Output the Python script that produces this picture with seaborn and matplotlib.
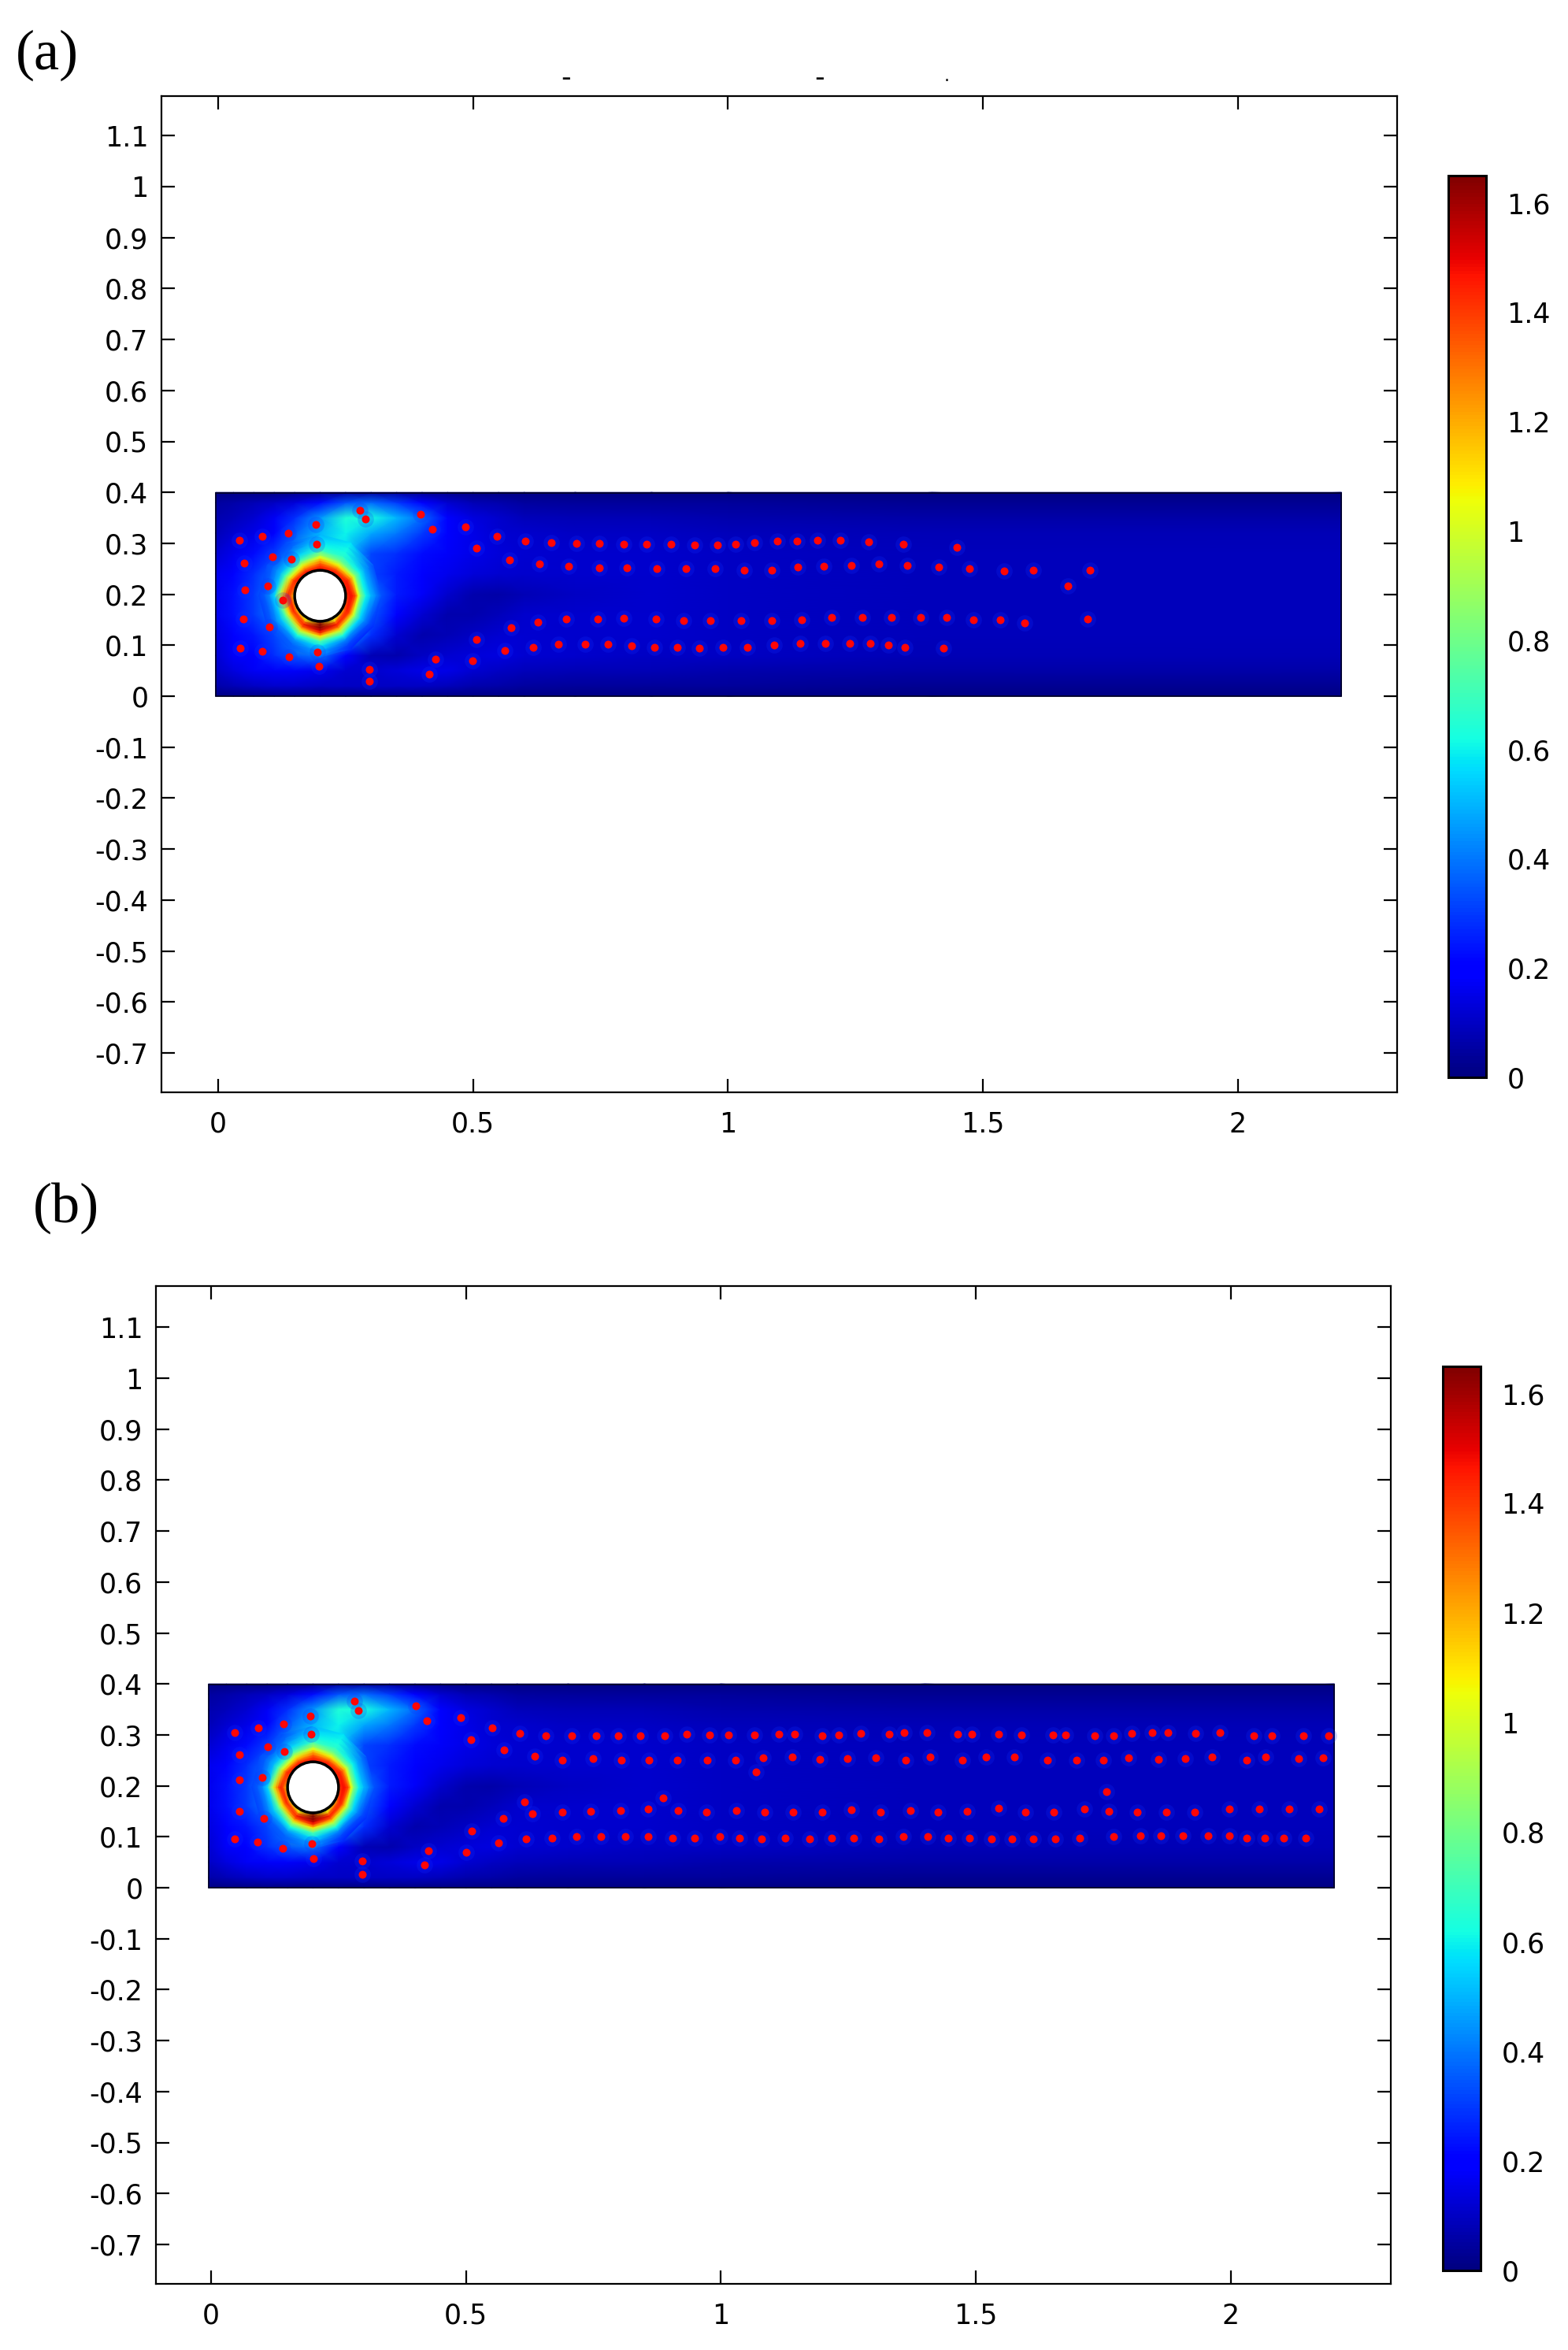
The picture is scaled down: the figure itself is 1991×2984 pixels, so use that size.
import numpy as np
import matplotlib
matplotlib.use("Agg")
import matplotlib.pyplot as plt
from matplotlib.patches import Circle, Rectangle
from matplotlib.colors import Normalize
from matplotlib.cm import ScalarMappable
import seaborn as sns

# Ticks
x_ticks = [0, 0.5, 1, 1.5, 2]
x_labels = ["0", "0.5", "1", "1.5", "2"]
y_ticks = [1.1, 1, 0.9, 0.8, 0.7, 0.6, 0.5, 0.4, 0.3, 0.2, 0.1, 0, -0.1, -0.2, -0.3, -0.4, -0.5, -0.6, -0.7]
y_labels = ["1.1", "1", "0.9", "0.8", "0.7", "0.6", "0.5", "0.4", "0.3", "0.2", "0.1", "0",
            "-0.1", "-0.2", "-0.3", "-0.4", "-0.5", "-0.6", "-0.7"]
cbar_ticks = [0, 0.2, 0.4, 0.6, 0.8, 1, 1.2, 1.4, 1.6]
cbar_labels = ["0", "0.2", "0.4", "0.6", "0.8", "1", "1.2", "1.4", "1.6"]

# Velocity field read by eye on an uneven grid
field_x = [-0.005, 0.03, 0.07, 0.11, 0.15, 0.2, 0.25, 0.3, 0.35, 0.4, 0.45, 0.5, 0.55, 0.6, 0.7, 0.85, 1.0, 1.4, 2.203]
field_y = [0, 0.02, 0.05, 0.08, 0.12, 0.16, 0.2, 0.24, 0.28, 0.32, 0.35, 0.38, 0.4]
field_values = [
    [.01, .01, .01, .01, .01, .01, .01, .01, .01, .01, .01, .01, .01, .01, .01, .01, .01, .01, .01],
    [.06, .08, .10, .11, .11, .10, .10, .10, .10, .10, .09, .07, .06, .05, .04, .04, .04, .03, .03],
    [.10, .14, .17, .18, .18, .16, .12, .11, .13, .15, .15, .12, .10, .09, .08, .08, .07, .06, .06],
    [.12, .18, .20, .28, .35, .40, .20, .08, .07, .10, .12, .13, .14, .12, .11, .10, .10, .08, .08],
    [.14, .20, .24, .32, .45, .80, .50, .28, .12, .07, .08, .10, .12, .12, .11, .11, .10, .085, .085],
    [.16, .23, .30, .40, .60, 1.0, .70, .35, .20, .12, .07, .07, .09, .11, .11, .11, .10, .085, .085],
    [.16, .23, .30, .42, .60, 1.0, .80, .40, .25, .18, .11, .07, .06, .08, .10, .11, .10, .085, .085],
    [.16, .21, .28, .38, .60, .90, .65, .32, .25, .20, .16, .13, .12, .11, .11, .11, .10, .085, .085],
    [.12, .16, .22, .30, .42, .65, .55, .32, .28, .22, .18, .15, .13, .12, .11, .11, .10, .085, .085],
    [.08, .12, .15, .20, .35, .50, .60, .48, .40, .30, .20, .15, .12, .11, .10, .10, .09, .08, .08],
    [.07, .09, .12, .17, .28, .45, .64, .62, .50, .38, .20, .14, .11, .09, .08, .08, .07, .06, .06],
    [.05, .06, .08, .10, .13, .22, .34, .38, .30, .20, .12, .08, .07, .05, .04, .04, .04, .03, .03],
    [.01, .01, .01, .01, .02, .03, .05, .05, .05, .03, .02, .01, .01, .01, .01, .01, .01, .01, .01],
]

# Ring around the cylinder, one row per angle, one column per radius
ring_r = [0.05, 0.055, 0.06, 0.065, 0.07, 0.075, 0.08, 0.09, 0.10, 0.11, 0.12]
ring_deg = [0, 30, 60, 90, 120, 150, 180, 210, 240, 270, 300, 330, 360]
ring_values = [
    [1.30, 1.45, 1.48, 1.45, 1.35, 1.05, .85, .60, .50, .42, .34],
    [1.35, 1.45, 1.45, 1.35, 1.20, 1.00, .82, .60, .48, .40, .33],
    [1.50, 1.45, 1.35, 1.20, 1.05, .90, .78, .66, .62, .60, .58],
    [1.55, 1.45, 1.40, 1.30, 1.20, 1.05, .90, .68, .60, .55, .50],
    [1.50, 1.45, 1.30, 1.15, 1.00, .85, .70, .55, .46, .38, .34],
    [1.30, 1.45, 1.40, 1.20, 1.00, .85, .68, .50, .42, .36, .33],
    [1.10, 1.25, 1.40, 1.45, 1.30, 1.15, .95, .55, .42, .35, .32],
    [1.00, 1.30, 1.45, 1.30, 1.10, .90, .70, .52, .42, .35, .32],
    [1.20, 1.05, 1.30, 1.45, 1.35, 1.15, .95, .62, .45, .37, .35],
    [1.65, 1.65, 1.65, 1.62, 1.50, 1.35, 1.10, .72, .58, .48, .42],
    [1.25, 1.05, 1.30, 1.45, 1.35, 1.15, .95, .62, .42, .32, .27],
    [1.10, 1.35, 1.45, 1.40, 1.20, 1.00, .80, .55, .42, .33, .28],
    [1.30, 1.45, 1.48, 1.45, 1.35, 1.05, .85, .60, .50, .42, .34],
]

# Particles, panel a
a_x = [.041, .086, .137, .192, .193, .106, .144, .051, .053, .098, .126, .050, .101, .043, .086, .139, .195, .197,
       .296, .296, .414, .427, .499, .507, .562, .574, .618, .627, .667, .683, .719, .744, .765, .796,
       .278, .289, .397, .420, .485, .507, .547, .572, .603, .630, .654, .688, .703, .747, .748, .796, .802,
       .840, .888, .934, .979, 1.014, 1.052, 1.096, 1.135, 1.176, 1.220, 1.275, 1.343, 1.448,
       .860, .917, .975, 1.031, 1.085, 1.137, 1.188, 1.242, 1.295, 1.352, 1.413, 1.473, 1.541, 1.598, 1.709, 1.666,
       .858, .912, .966, 1.025, 1.085, 1.144, 1.203, 1.264, 1.321, 1.377, 1.428, 1.481, 1.533, 1.582, 1.705,
       .811, .855, .900, .943, .990, 1.038, 1.090, 1.142, 1.190, 1.238, 1.279, 1.315, 1.347, 1.422]
a_y = [.306, .313, .320, .337, .299, .274, .269, .261, .208, .217, .188, .151, .136, .095, .088, .077, .087, .058,
       .053, .029, .043, .073, .070, .112, .089, .134, .096, .145, .102, .151, .102, .152, .102, .153,
       .364, .347, .357, .328, .332, .290, .314, .268, .304, .259, .302, .255, .300, .252, .300, .298, .252,
       .299, .299, .296, .296, .299, .302, .304, .305, .306, .306, .303, .299, .292,
       .251, .250, .250, .248, .248, .253, .255, .256, .259, .256, .253, .250, .246, .247, .247, .216,
       .151, .149, .149, .149, .149, .150, .154, .154, .155, .155, .155, .150, .150, .144, .151,
       .099, .096, .096, .095, .096, .096, .100, .103, .103, .103, .103, .100, .096, .094]

# Particles, panel b
b_x = [.046, .092, .142, .195, .196, .281, .289, .402, .423, .489, .552, .510, .606, .656, .707, .755, .798,
       .111, .143, .055, .055, .100, .055, .104, .046, .091, .140, .197, .201, .297, .296, .418, .427, .500, .511,
       .563, .573, .618, .630, .615, .668, .689, .716, .744, .765, .803, .812, .575, .635, .689, .749, .804,
       .842, .889, .933, .977, 1.015, 1.065, 1.113, 1.145, 1.199, 1.231, 1.274, 1.329, 1.359, 1.404, 1.464, 1.492,
       1.545, 1.589, 1.651, 1.676, 1.733, 1.770, 1.806, 1.845, 1.877, 1.930, 1.979, 2.045, 2.080, 2.142, 2.191,
       .859, .914, .973, 1.029, 1.082, 1.139, 1.194, 1.248, 1.304, 1.362, 1.410, 1.473, 1.520, 1.575, 1.640, 1.698,
       1.750, 1.800, 1.858, 1.911, 1.963, 2.031, 2.068, 2.133, 2.180, 1.068, 1.756, .886,
       .857, .916, .972, 1.030, 1.086, 1.141, 1.198, 1.256, 1.313, 1.371, 1.425, 1.483, 1.545, 1.597, 1.652, 1.712,
       1.761, 1.816, 1.873, 1.929, 1.997, 2.056, 2.115, 2.173,
       .857, .905, .948, .998, 1.036, 1.079, 1.126, 1.174, 1.217, 1.261, 1.310, 1.358, 1.405, 1.445, 1.488, 1.530,
       1.570, 1.612, 1.656, 1.703, 1.770, 1.823, 1.862, 1.906, 1.955, 1.997, 2.031, 2.067, 2.103, 2.146]
b_y = [.304, .314, .321, .337, .301, .367, .348, .357, .328, .334, .314, .290, .303, .299, .298, .298, .298,
       .276, .267, .261, .211, .217, .150, .136, .096, .089, .078, .086, .057, .052, .027, .045, .073, .069, .111,
       .088, .136, .096, .146, .169, .097, .149, .100, .150, .101, .151, .101, .270, .258, .251, .254, .251,
       .299, .299, .301, .300, .300, .300, .301, .301, .299, .300, .303, .301, .304, .304, .301, .301,
       .301, .300, .300, .300, .299, .299, .303, .304, .304, .303, .304, .299, .299, .299, .299,
       .250, .250, .250, .250, .255, .256, .252, .253, .255, .250, .256, .250, .256, .256, .250, .250,
       .250, .255, .252, .254, .256, .250, .256, .253, .255, .227, .189, .176,
       .155, .152, .149, .152, .149, .149, .149, .153, .149, .151, .149, .150, .156, .149, .149, .155,
       .150, .149, .149, .149, .155, .155, .155, .155,
       .100, .098, .098, .101, .097, .096, .098, .096, .097, .098, .096, .100, .100, .098, .098, .096,
       .096, .096, .096, .097, .101, .102, .102, .102, .102, .102, .097, .097, .097, .097]

sns.set_theme(style="ticks")
plt.rcParams["font.family"] = ["DejaVu Sans"]

W, H = 1991, 2984
fig = plt.figure(figsize=(W / 100, H / 100), dpi=100, facecolor="white")
norm = Normalize(0, 1.65)


def box(left, top, right, bottom):
    return [left / W, 1 - bottom / H, (right - left) / W, (bottom - top) / H]


def draw_panel(rect, cbar_rect, px, py):
    ax = fig.add_axes(box(*rect))
    # base field
    ax.pcolormesh(field_x, field_y, np.array(field_values), cmap="jet", norm=norm, shading="gouraud", zorder=1)
    # finer ring round the cylinder
    t = np.radians(ring_deg)[:, None]
    r = np.array(ring_r)[None, :]
    ax.pcolormesh(0.2 + r * np.cos(t), 0.197 + r * np.sin(t), np.array(ring_values),
                  cmap="jet", norm=norm, shading="gouraud", zorder=2)
    ax.add_patch(Rectangle((-0.005, 0), 2.208, 0.398, fill=False, ec="#000020", lw=1.2, zorder=3))
    ax.add_patch(Circle((0.2, 0.197), 0.05, fc="white", ec="black", lw=2.5, zorder=4))
    # blue halo from the compression, then the particles
    sns.scatterplot(x=px, y=py, ax=ax, color="#1030ff", s=220, alpha=0.22, linewidth=0, legend=False, zorder=5)
    sns.scatterplot(x=px, y=py, ax=ax, color="#ff0505", s=52, linewidth=0, legend=False, zorder=6)

    ax.set_xlim((rect[0] - px0[rect[0]]) / scale_x, (rect[2] - px0[rect[0]]) / scale_x)
    ax.set_ylim((py0[rect[0]] - rect[3]) / 647, (py0[rect[0]] - rect[1]) / 647)
    ax.set_xticks(x_ticks, x_labels)
    ax.set_yticks(y_ticks, y_labels)
    ax.tick_params(direction="in", length=12, width=1.6, top=True, right=True, labelsize=25,
                   colors="black", pad=12)
    ax.tick_params(axis="x", pad=17)
    for s in ax.spines.values():
        s.set_linewidth(1.6)
        s.set_color("black")
        s.set_visible(True)

    cax = fig.add_axes(box(*cbar_rect))
    cb = fig.colorbar(ScalarMappable(norm=norm, cmap="jet"), cax=cax)
    cb.set_ticks(cbar_ticks, labels=cbar_labels)
    cb.ax.tick_params(direction="in", length=6, width=1.2, left=True, right=True, labelsize=25, pad=19, colors="black")
    cb.outline.set_linewidth(2.2)
    cb.outline.set_edgecolor("black")
    return ax


scale_x = 647.5
px0 = {205: 277, 198: 268}
py0 = {205: 884, 198: 2397}

draw_panel((205, 122, 1774, 1387), (1839, 223, 1887, 1368), a_x, a_y)
draw_panel((198, 1633, 1766, 2900), (1832, 1735, 1880, 2883), b_x, b_y)

fig.text(20 / W, 1 - 88 / H, "(a)", family="Liberation Serif", fontsize=52, color="black")
fig.text(42 / W, 1 - 1552 / H, "(b)", family="Liberation Serif", fontsize=52, color="black")

# clipped leftovers above panel a
fig.text(719 / W, 1 - 109 / H, "-", fontsize=25, ha="center", color="black")
fig.text(1041 / W, 1 - 109 / H, "-", fontsize=25, ha="center", color="black")
fig.text(1202 / W, 1 - 103 / H, ".", fontsize=16, ha="center", color="black")

fig.savefig("out.png", dpi=100)
